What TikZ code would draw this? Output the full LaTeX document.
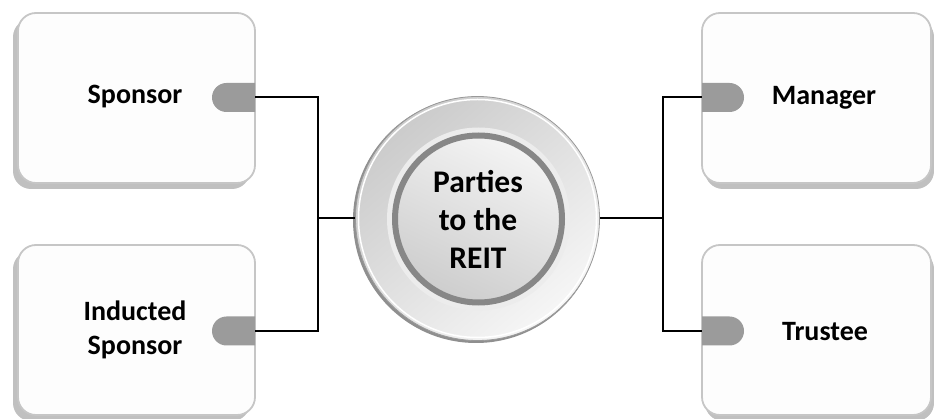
\documentclass[tikz,border=0pt]{standalone}
\usepackage{fontspec}
\setmainfont{Carlito}
\usetikzlibrary{shapes.misc,shadows}
\definecolor{boxedge}{HTML}{C6C6C6}
\definecolor{boxfill}{HTML}{FDFDFD}
\definecolor{tabfill}{HTML}{9B9B9B}
\definecolor{ringcol}{HTML}{878787}
\definecolor{halocol}{HTML}{ECECEC}
\definecolor{outerdark}{HTML}{CBCBCB}
\definecolor{outerlight}{HTML}{F6F6F6}
\definecolor{innerlight}{HTML}{F4F4F4}
\definecolor{innerdark}{HTML}{CDCDCD}
\begin{document}
\begin{tikzpicture}[x=1pt,y=-1pt,
  boxl/.style={draw=boxedge, line width=1.8pt, fill=boxfill, rounded corners=18pt,
    minimum width=237pt, minimum height=170pt, inner sep=0pt,
    drop shadow={shadow xshift=-5pt, shadow yshift=-6pt, fill=black!45, opacity=0.55}},
  boxr/.style={draw=boxedge, line width=1.8pt, fill=boxfill, rounded corners=18pt,
    minimum width=229pt, minimum height=170pt, inner sep=0pt,
    drop shadow={shadow xshift=3pt, shadow yshift=-6pt, fill=black!45, opacity=0.55}},
  tabl/.style={rounded rectangle, rounded rectangle right arc=none, fill=tabfill,
    minimum width=43pt, minimum height=29pt, inner sep=0pt},
  tabr/.style={rounded rectangle, rounded rectangle left arc=none, fill=tabfill,
    minimum width=42pt, minimum height=29pt, inner sep=0pt},
  lbl/.style={font=\fontsize{28}{34}\selectfont\bfseries, align=center, inner sep=0pt},
  hublbl/.style={font=\fontsize{31.5}{38}\selectfont\bfseries, align=center, inner sep=0pt},
  conn/.style={draw=black, line width=2pt}
]
\useasboundingbox (0,0) rectangle (934,419);

% boxes
\node[boxl] (sbox) at (136.5,98) {};
\node[boxl] (ibox) at (136.5,330) {};
\node[boxr] (mbox) at (816.5,98) {};
\node[boxr] (tbox) at (816.5,330) {};

% tabs
\node[tabl] (stab) at (233.5,97.5) {};
\node[tabl] (itab) at (233.5,331) {};
\node[tabr] (mtab) at (723,97.5) {};
\node[tabr] (ttab) at (723,331) {};

% labels
\node[lbl] (stext) at (135,97) {Sponsor};
\node[lbl] (itext) at (135,330) {Inducted\\Sponsor};
\node[lbl] (mtext) at (824,98) {Manager};
\node[lbl] (ttext) at (825,332) {Trustee};

% junctions
\coordinate (jl) at (318,218.5);
\coordinate (jr) at (663,218.5);

% central hub
\node[circle, fill=black!55, minimum size=246pt, inner sep=0pt, opacity=0.8] (hubshadow) at (476,220) {};
\node[circle, draw=black!40, line width=0.8pt, top color=outerdark, bottom color=outerlight,
  shading angle=40, minimum size=244pt, inner sep=0pt] (hub) at (477.5,218.5) {};
\node[circle, draw=white, line width=1.5pt, minimum size=238pt, inner sep=0pt] (hubrim) at (477.5,218.5) {};
\node[circle, fill=halocol, minimum size=183pt, inner sep=0pt] (halo) at (478.5,219) {};
\node[circle, draw=ringcol, line width=6pt, top color=innerlight, bottom color=innerdark,
  shading angle=-25, minimum size=167pt, inner sep=0pt] (ring) at (478.5,219) {};
\node[hublbl] (hubtext) at (478,219) {Parties\\to the\\REIT};

% connectors
\draw[conn] (stab.east) -| (jl) |- (itab.east);
\draw[conn] (jl) -- (hub.west);
\draw[conn] (mtab.west) -| (jr) |- (ttab.west);
\draw[conn] (jr) -- (hub.east);
\end{tikzpicture}
\end{document}
